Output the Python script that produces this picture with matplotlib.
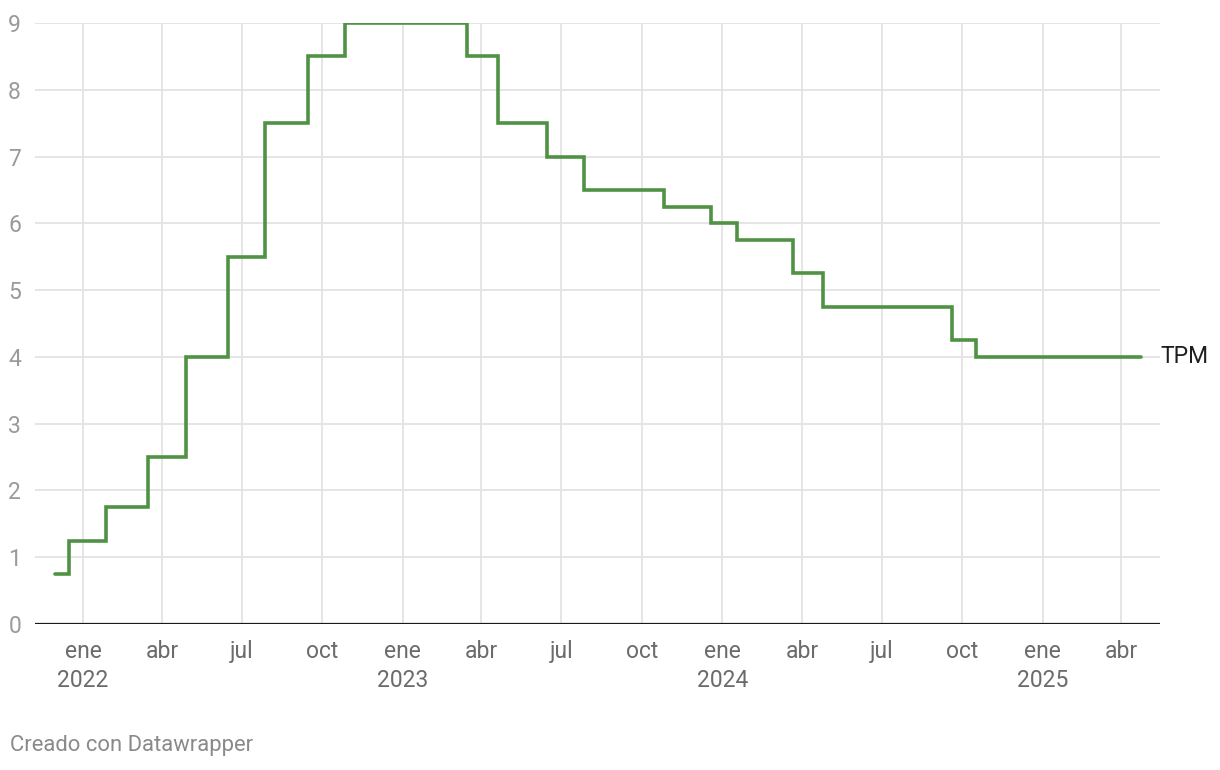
import matplotlib
matplotlib.use("Agg")
import matplotlib.pyplot as plt
import numpy as np

plt.rcParams['font.family'] = ['Roboto', 'DejaVu Sans']

# Data: policy rate change dates and values
change_dates = ["2021-11-30", "2021-12-16", "2022-01-27", "2022-03-16", "2022-04-28",
                "2022-06-16", "2022-07-28", "2022-09-15", "2022-10-27", "2023-03-16",
                "2023-04-20", "2023-06-15", "2023-07-27", "2023-10-26", "2023-12-19",
                "2024-01-18", "2024-03-22", "2024-04-25", "2024-09-19", "2024-10-17",
                "2025-04-23"]
rates = [0.75, 1.25, 1.75, 2.5, 4.0, 5.5, 7.5, 8.5, 9.0, 8.5,
         7.5, 7.0, 6.5, 6.25, 6.0, 5.75, 5.25, 4.75, 4.25, 4.0, 4.0]
series_label = "TPM"

tick_dates = ["2022-01-01", "2022-04-01", "2022-07-01", "2022-10-01",
              "2023-01-01", "2023-04-01", "2023-07-01", "2023-10-01",
              "2024-01-01", "2024-04-01", "2024-07-01", "2024-10-01",
              "2025-01-01", "2025-04-01"]
tick_labels = ["ene\n2022", "abr", "jul", "oct",
               "ene\n2023", "abr", "jul", "oct",
               "ene\n2024", "abr", "jul", "oct",
               "ene\n2025", "abr"]
y_ticks = [0, 1, 2, 3, 4, 5, 6, 7, 8, 9]

fig = plt.figure(figsize=(12.2, 7.7), dpi=100)
ax = fig.add_axes([35/1220, (770-624)/770, (1160-35)/1220, (624-23)/770])

x = [np.datetime64(d) for d in change_dates]
ax.plot(x, rates, drawstyle='steps-post', color='#4f9243', lw=2.6,
        solid_capstyle='round', solid_joinstyle='miter', zorder=3)

ax.set_xlim(np.datetime64("2021-11-07"), np.datetime64("2025-05-15"))
ax.set_ylim(0, 9)

tx = [np.datetime64(d) for d in tick_dates]
ax.set_xticks(tx)
ax.set_xticklabels(tick_labels, fontsize=16.5, color='#6b6b6b', linespacing=1.35, va='top')
ax.tick_params(axis='x', length=0, pad=11.5)
ax.set_yticks(y_ticks)
ax.set_yticklabels([str(v) for v in y_ticks], fontsize=16.5, color='#9a9a9a')
ax.tick_params(axis='y', length=0, pad=10)

for yv in y_ticks[1:]:
    ax.axhline(yv, color='#e3e3e3', lw=1.3, zorder=1)
for t in tx:
    ax.axvline(t, color='#e3e3e3', lw=1.3, zorder=1)
ax.axhline(0, color='#1a1a1a', lw=1.6, zorder=4)

for s in ax.spines.values():
    s.set_visible(False)
ax.grid(False)

ax.annotate(series_label, xy=(x[-1], rates[-1]), xytext=(14, 0), textcoords='offset points',
            fontsize=16.5, color='#1f1f1f', va='center', ha='left', annotation_clip=False)

fig.text(10/1220, 1 - 746/770, "Creado con Datawrapper", fontsize=15.8, color='#8a8a8a',
         va='center', ha='left')

fig.savefig("out.png", dpi=100)
